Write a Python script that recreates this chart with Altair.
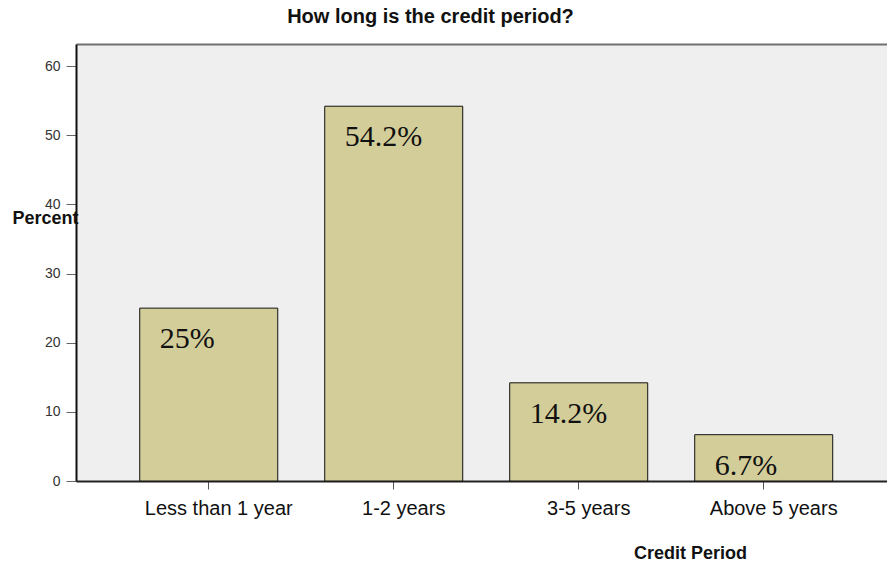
import altair as alt
import pandas as pd

categories = ["Less than 1 year", "1-2 years", "3-5 years", "Above 5 years"]
percents = [25.0, 54.2, 14.2, 6.7]
labels = ["25%", "54.2%", "14.2%", "6.7%"]
y_ticks = [0, 10, 20, 30, 40, 50, 60]

df = pd.DataFrame({"cat": categories, "pct": percents, "lab": labels})

x_scale = alt.Scale(domain=categories, paddingInner=0.254, paddingOuter=0.319, align=0.54)
y_scale = alt.Scale(domain=[0, 63.2], nice=False)

y_axis = alt.Axis(
    title="Percent", values=y_ticks, grid=False, labelFontSize=14,
    labelFont="Liberation Sans", labelColor="#333333", labelPadding=6,
    tickSize=10, tickColor="#666666", domainColor="#111111", domainWidth=2,
    titleAngle=0, titleX=-64, titleY=179, titleAlign="left",
    titleBaseline="alphabetic", titleFont="Liberation Sans",
    titleFontSize=18, titleFontWeight="bold", titleColor="#111111")

bars = alt.Chart(df).mark_bar(
    color="#D3CE99", stroke="#111111", strokeWidth=1
).encode(
    x=alt.X("cat:N", scale=x_scale, sort=categories,
            axis=alt.Axis(
                title="Credit Period", labelAngle=0, labelFontSize=20,
                labelFont="Liberation Sans", labelColor="#111111",
                labelPadding=9, labelOffset=10,
                tickSize=8, tickColor="#555555", domainColor="#222222", domainWidth=2,
                titleFont="Liberation Sans", titleFontSize=18, titleFontWeight="bold",
                titleColor="#111111", titleX=614, titleY=77, titleAlign="center",
                titleBaseline="alphabetic")),
    y=alt.Y("pct:Q", scale=y_scale, axis=y_axis),
)

texts = alt.Chart(df).mark_text(
    align="left", baseline="alphabetic", dx=-49, dy=40,
    font="Liberation Serif", fontSize=30, color="#111111"
).encode(
    x=alt.X("cat:N", scale=x_scale, sort=categories,
            axis=alt.Axis(orient="top", labels=False, ticks=False, title=None,
                          domainColor="#707070", domainWidth=2)),
    y=alt.Y("pct:Q", scale=y_scale, axis=y_axis),
    text="lab:N",
)

chart = alt.layer(bars, texts).resolve_axis(x="independent").properties(
    width=811, height=437,
    autosize=alt.AutoSizeParams(type="none"),
    padding={"left": 76, "top": 44, "right": 0, "bottom": 82},
    view=alt.ViewBackground(fill="#EFEFEF", stroke="transparent"),
    title=alt.TitleParams(
        "How long is the credit period?", font="Liberation Sans", fontSize=20,
        fontWeight="bold", color="#111111", anchor="middle", frame="group",
        dx=-51, offset=1, baseline="alphabetic"),
).configure(background="white")

chart.save("out.html", embed_options={"renderer": "svg", "actions": False})
